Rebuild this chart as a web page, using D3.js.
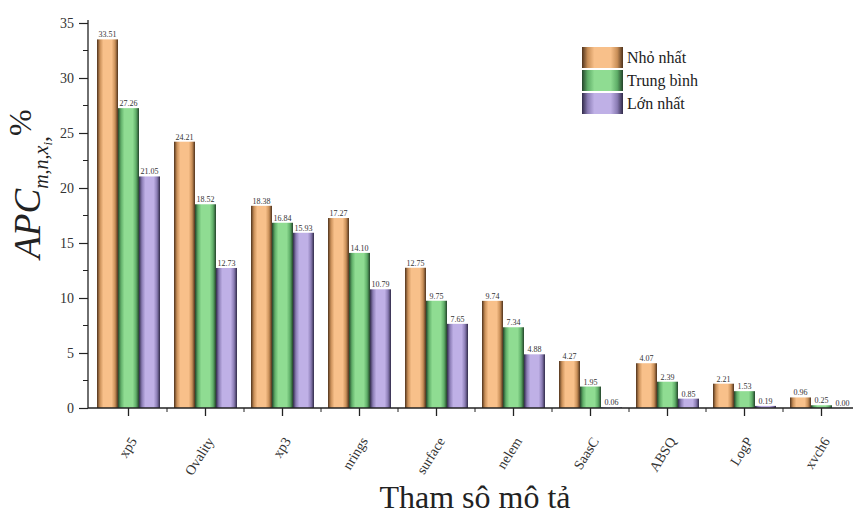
<!DOCTYPE html>
<html><head><meta charset="utf-8">
<script src="https://cdn.jsdelivr.net/npm/d3@7"></script>
<style>body{margin:0;background:#fff} svg{display:block}</style>
</head><body>
<svg id="chart" width="855" height="514"></svg>
<script>
// Descriptor categories and the three APC series (min / mean / max)
const categories = ["xp5","Ovality","xp3","nrings","surface","nelem","SaasC","ABSQ","LogP","xvch6"];
const seriesNames = ["Nhỏ nhất","Trung bình","Lớn nhất"];
const minValues  = [33.51,24.21,18.38,17.27,12.75,9.74,4.27,4.07,2.21,0.96];
const meanValues = [27.26,18.52,16.84,14.10,9.75,7.34,1.95,2.39,1.53,0.25];
const maxValues  = [21.05,12.73,15.93,10.79,7.65,4.88,0.06,0.85,0.19,0.00];
const yTicks = [0,5,10,15,20,25,30,35];
const yMinorTicks = [2.5,7.5,12.5,17.5,22.5,27.5,32.5];

const seriesValues = [minValues, meanValues, maxValues];
const palette = [
  {edge:"#4e321c", mid:"#c98f58", light:"#f8c08a"},
  {edge:"#23432a", mid:"#5fae68", light:"#8fdc92"},
  {edge:"#302a48", mid:"#8a7cb4", light:"#bfb0e6"}
];

const svg = d3.select("#chart");
const font = "'Liberation Serif','Times New Roman',serif";

// gradients giving the bars dark shaded edges
const defs = svg.append("defs");
palette.forEach((c, i) => {
  const g = defs.append("linearGradient").attr("id", "grad" + i)
    .attr("x1", "0%").attr("x2", "100%").attr("y1", "0%").attr("y2", "0%");
  [[0, c.edge],[0.14, c.mid],[0.3, c.light],[0.7, c.light],[0.86, c.mid],[1, c.edge]]
    .forEach(([o, col]) => g.append("stop").attr("offset", o).attr("stop-color", col));
});

const axisX = 88, axisY = 408;
const x0 = d3.scaleBand().domain(categories).range([90, 860]).paddingInner(0).paddingOuter(0);
const x1 = d3.scaleBand().domain(d3.range(3)).range([7, 70]);
const y = d3.scaleLinear().domain([0, 35]).range([axisY, 23]);

// bars
const groups = svg.append("g").selectAll("g").data(categories).join("g")
  .attr("transform", d => `translate(${x0(d)},0)`);
groups.selectAll("rect").data((d, ci) => d3.range(3).map(s => ({s, v: seriesValues[s][ci]})))
  .join("rect")
  .attr("x", d => x1(d.s))
  .attr("width", x1.bandwidth())
  .attr("y", d => y(d.v))
  .attr("height", d => axisY - y(d.v))
  .attr("fill", d => `url(#grad${d.s})`);

// value labels
groups.selectAll("text").data((d, ci) => d3.range(3).map(s => ({s, v: seriesValues[s][ci]})))
  .join("text")
  .attr("x", d => x1(d.s) + x1.bandwidth() / 2)
  .attr("y", d => y(d.v) - 2)
  .attr("text-anchor", "middle")
  .attr("font-family", font).attr("font-size", 8).attr("fill", "#333")
  .text(d => d.v.toFixed(2));

// y axis
const yAxis = svg.append("g").attr("transform", `translate(${axisX},0)`)
  .call(d3.axisLeft(y).tickValues(yTicks).tickSize(9).tickPadding(5).tickFormat(d3.format("d")));
yAxis.select(".domain").attr("stroke", "#222").attr("stroke-width", 1.3).attr("d", `M0,${axisY}V20`);
yAxis.selectAll(".tick line").attr("stroke", "#222").attr("stroke-width", 1.2);
yAxis.selectAll(".tick text").attr("font-family", font).attr("font-size", 14).attr("fill", "#333");
svg.append("g").selectAll("line").data(yMinorTicks).join("line")
  .attr("x1", axisX - 5).attr("x2", axisX).attr("y1", d => y(d)).attr("y2", d => y(d))
  .attr("stroke", "#222").attr("stroke-width", 1);

// x axis
svg.append("line").attr("x1", axisX).attr("x2", 853).attr("y1", axisY).attr("y2", axisY)
  .attr("stroke", "#222").attr("stroke-width", 1.3);
const xAxis = svg.append("g").attr("transform", `translate(0,${axisY})`)
  .call(d3.axisBottom(x0).tickSize(8).tickFormat(""));
xAxis.select(".domain").remove();
xAxis.selectAll(".tick line").attr("stroke", "#222").attr("stroke-width", 1.3);
svg.append("g").selectAll("line").data(categories.slice(1)).join("line")
  .attr("x1", d => x0(d)).attr("x2", d => x0(d)).attr("y1", axisY).attr("y2", axisY + 4)
  .attr("stroke", "#222").attr("stroke-width", 1);

// rotated category labels
svg.append("g").selectAll("text").data(categories).join("text")
  .attr("transform", d => `translate(${x0(d) + x0.bandwidth() / 2 + 9},${axisY + 33}) rotate(-58)`)
  .attr("text-anchor", "end")
  .attr("font-family", font).attr("font-size", 14).attr("fill", "#333")
  .text(d => d);

// axis titles
svg.append("text").attr("x", 475).attr("y", 508).attr("text-anchor", "middle")
  .attr("font-family", font).attr("font-size", 32).attr("fill", "#222")
  .text("Tham sô mô tả");

const yt = svg.append("text").attr("transform", "translate(40,184) rotate(-90)")
  .attr("text-anchor", "middle").attr("font-family", font).attr("fill", "#222");
yt.append("tspan").attr("font-style", "italic").attr("font-size", 37).text("APC");
yt.append("tspan").attr("font-style", "italic").attr("font-size", 20).attr("dy", 8).text("m,n,x");
yt.append("tspan").attr("font-style", "italic").attr("font-size", 13).attr("dy", 4).text("i");
yt.append("tspan").attr("font-size", 24).attr("dy", -4).text(",");
yt.append("tspan").attr("font-size", 32).attr("dy", -17).text("%");

// legend
const legend = svg.append("g").attr("transform", "translate(582,47)");
seriesNames.forEach((name, i) => {
  const row = legend.append("g").attr("transform", `translate(0,${i * 23})`);
  row.append("rect").attr("width", 41).attr("height", 21).attr("fill", `url(#grad${i})`);
  row.append("text").attr("x", 45).attr("y", 16)
    .attr("font-family", font).attr("font-size", 16).attr("fill", "#222").text(name);
});
</script>
</body></html>
